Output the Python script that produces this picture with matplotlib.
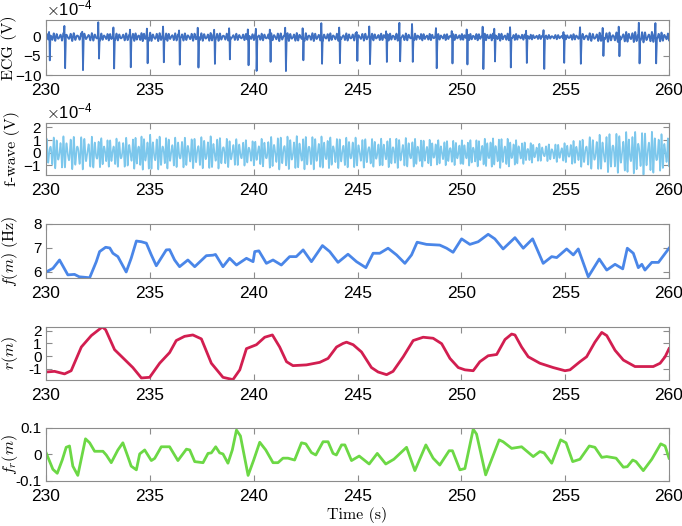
import numpy as np
import matplotlib.pyplot as plt

# ---- values ----
# beat (QRS) times in s, spike depth and small positive peak, in 1e-4 V
beat_t = [230.17, 230.91, 231.77, 232.54, 233.27, 234.07, 234.88, 235.66, 236.43,
          237.33, 238.12, 238.84, 239.74, 240.13, 240.80, 241.54, 242.38, 243.28,
          244.14, 244.98, 245.59, 246.40, 247.04, 247.65, 248.80, 249.56, 250.28,
          251.05, 251.61, 252.37, 253.14, 253.98, 254.94, 255.74, 256.83, 257.60,
          258.57, 259.37]
beat_depth = [6.3, 7.2, 7.6, 6.4, 8.3, 7.6, 7.9, 7.0, 6.8, 8.3, 7.2, 6.8, 8.1, 8.3,
              7.2, 8.6, 7.2, 7.6, 8.0, 6.0, 6.8, 7.2, 6.4, 6.8, 8.0, 7.2, 8.0, 7.6,
              6.4, 8.0, 7.2, 8.6, 7.6, 6.8, 5.0, 6.4, 6.8, 6.4]
beat_peak = [1.5, 3.4, 2.0, 3.5, 2.2, 1.8, 2.0, 2.5, 1.8, 2.2, 1.8, 2.0, 2.4, 2.0,
             3.0, 2.5, 2.0, 2.8, 2.2, 2.0, 2.5, 2.0, 3.2, 3.0, 2.0, 2.2, 2.4, 2.5,
             3.0, 2.0, 2.2, 2.0, 1.8, 2.0, 1.8, 2.6, 3.4, 3.4]

# f-wave amplitude (1e-4 V), one value per second from 230 to 260
fw_env_t = list(range(230, 261))
fw_env = [1.1, 1.2, 1.2, 1.0, 1.1, 1.3, 1.1, 1.1, 1.2, 1.0, 0.9, 1.2, 1.2, 1.2,
          1.1, 1.1, 1.0, 1.1, 1.0, 0.9, 0.9, 1.0, 1.1, 0.8, 0.6, 0.7, 1.1, 1.4,
          1.5, 1.6, 1.2]

# dominant f-wave frequency f(m), Hz
fm_t = [230.0, 230.33, 230.65, 231.05, 231.37, 231.6, 232.1, 232.42, 232.58, 232.87,
        233.07, 233.22, 233.46, 233.86, 234.1, 234.35, 234.59, 234.83, 235.07, 235.31,
        235.79, 235.95, 236.19, 236.43, 236.83, 237.16, 237.72, 238.04, 238.16, 238.52,
        238.84, 239.17, 239.65, 239.97, 240.05, 240.25, 240.61, 240.93, 241.33, 241.73,
        242.05, 242.38, 242.78, 243.31, 243.66, 244.06, 244.54, 244.95, 245.4, 245.75,
        246.07, 246.47, 246.88, 247.28, 247.6, 247.87, 248.32, 248.96, 249.29, 249.6,
        250.01, 250.41, 250.81, 251.29, 251.61, 252.01, 252.58, 252.98, 253.43, 253.94,
        254.35, 254.59, 255.07, 255.39, 255.63, 256.11, 256.64, 257.0, 257.4, 257.77,
        257.99, 258.28, 258.52, 258.69, 258.84, 259.17, 259.49, 260.0]
fm = [6.0, 6.15, 6.5, 5.88, 5.9, 5.8, 5.76, 6.43, 6.85, 7.03,
      7.0, 6.78, 6.64, 6.0, 6.57, 7.29, 7.26, 7.2, 6.71, 6.26,
      6.92, 6.93, 6.5, 6.22, 6.5, 6.22, 6.68, 6.7, 6.73, 6.22,
      6.57, 6.29, 6.57, 6.43, 6.85, 6.88, 6.36, 6.5, 6.29, 6.64,
      6.64, 6.92, 6.43, 7.1, 6.85, 6.4, 6.74, 6.43, 6.18, 6.78,
      6.78, 6.99, 6.71, 6.36, 6.71, 7.24, 7.15, 7.12, 6.99, 6.82,
      7.38, 7.15, 7.26, 7.57, 7.38, 6.96, 7.43, 6.99, 7.38, 6.36,
      6.64, 6.6, 6.96, 6.71, 6.96, 5.8, 6.54, 6.08, 6.32, 6.13,
      6.99, 6.78, 6.18, 6.32, 6.08, 6.4, 6.4, 6.99]

# respiration r(m)
rm_t = [230.0, 230.41, 230.89, 231.21, 231.7, 232.18, 232.71, 232.87, 233.3, 233.7,
        234.18, 234.59, 234.99, 235.47, 235.95, 236.27, 236.67, 237.07, 237.48, 237.96,
        238.52, 239.0, 239.33, 239.65, 240.13, 240.53, 240.9, 241.25, 241.58, 241.89,
        242.54, 243.18, 243.58, 243.99, 244.3, 244.47, 244.79, 245.19, 245.67, 245.99,
        246.4, 246.71, 247.2, 247.68, 248.16, 248.64, 249.05, 249.45, 249.85, 250.17,
        250.57, 250.89, 251.29, 251.7, 252.1, 252.42, 252.58, 252.9, 253.22, 253.78,
        254.42, 254.99, 255.23, 255.71, 256.03, 256.43, 256.76, 257.0, 257.4, 257.8,
        258.36, 259.24, 259.57, 259.81, 260.0]
rm = [-1.25, -1.2, -1.4, -1.15, 0.72, 1.62, 2.3, 2.08, 0.51, -0.13,
      -0.9, -1.72, -1.67, -0.56, 0.28, 1.23, 1.56, 1.67, 1.36, -0.56,
      -1.67, -1.85, -1.08, 0.59, 0.9, 1.49, 1.67, 0.72, -0.44, -0.75,
      -0.69, -0.49, -0.18, 0.72, 1.0, 1.1, 0.9, 0.33, -0.9, -1.25,
      -1.46, -1.2, -0.05, 1.23, 1.49, 1.41, 0.98, -0.18, -0.9, -1.08,
      -1.15, -0.44, 0.03, 0.13, 1.31, 1.74, 1.67, 0.72, -0.05, -0.56,
      -0.9, -1.15, -1.08, -0.44, -0.05, 1.1, 1.87, 1.62, 0.46, -0.31,
      -0.82, -0.82, -0.56, -0.05, 0.59]

# respiratory frequency modulation f_r(m)
fr_t = [230.0, 230.33, 230.54, 230.78, 230.97, 231.13, 231.29, 231.53, 231.9, 232.1,
        232.34, 232.74, 232.9, 233.14, 233.46, 233.7, 233.94, 234.1, 234.35, 234.51,
        234.75, 235.07, 235.23, 235.55, 235.95, 236.35, 236.76, 236.92, 237.16, 237.56,
        237.8, 237.96, 238.17, 238.36, 238.52, 238.76, 238.97, 239.17, 239.36, 239.73,
        240.0, 240.29, 240.58, 240.93, 241.17, 241.41, 241.65, 241.97, 242.3, 242.51,
        242.78, 242.99, 243.34, 243.58, 243.82, 243.98, 244.23, 244.39, 244.71, 245.08,
        245.56, 245.95, 246.36, 246.75, 247.36, 247.76, 248.29, 248.64, 248.96, 249.41,
        249.57, 249.93, 250.17, 250.57, 250.73, 251.17, 251.82, 252.01, 252.42, 252.9,
        253.46, 253.78, 253.98, 254.35, 254.78, 255.04, 255.36, 255.71, 256.16, 256.43,
        256.76, 257.0, 257.45, 257.8, 257.99, 258.25, 258.41, 258.76, 259.17, 259.6,
        259.81, 260.0]
fr = [0.007, -0.056, -0.071, -0.021, 0.027, 0.032, -0.044, -0.079, 0.059, 0.044,
      0.012, 0.012, -0.002, -0.031, 0.017, 0.044, -0.008, -0.044, -0.058, 0.002,
      0.017, -0.023, -0.015, 0.029, 0.029, -0.023, 0.02, 0.017, -0.027, -0.031,
      0.004, 0.006, 0.029, 0.006, 0.002, -0.033, 0.017, 0.092, 0.07, -0.079,
      -0.021, 0.046, 0.017, -0.031, -0.031, -0.014, -0.014, -0.021, 0.044, 0.04,
      0.007, -0.002, 0.048, 0.048, 0.004, -0.002, 0.036, 0.036, -0.023, -0.006,
      -0.036, 0.004, -0.036, -0.018, 0.027, -0.061, 0.036, -0.014, -0.04, 0.014,
      0.014, -0.058, -0.053, 0.095, 0.077, -0.077, 0.055, 0.048, 0.023, 0.029,
      -0.008, 0.011, 0.006, -0.033, 0.055, 0.044, -0.027, -0.018, 0.032, 0.027,
      -0.011, -0.008, -0.014, -0.048, -0.046, -0.021, -0.027, -0.061, -0.018, 0.04,
      0.032, -0.014]

# ---- dense traces built from the values above ----
fs = 250
t = np.arange(230, 260, 1 / fs)
phase = 2 * np.pi * np.cumsum(np.interp(t, fm_t, fm)) / fs
env = np.interp(t, fw_env_t, fw_env)
fwave = env * (0.75 * np.sin(phase) + 0.35 * np.sin(1.37 * phase + 0.4))

ecg = 0.8 * fwave - 0.2
for tb, d, h in zip(beat_t, beat_depth, beat_peak):
    ecg += np.interp(t, [tb - 0.05, tb - 0.025, tb - 0.008, tb + 0.01, tb + 0.04],
                     [0, h, 0, -d, 0], left=0, right=0)

# ---- figure ----
plt.rcParams['font.family'] = ['Liberation Sans', 'DejaVu Sans']
plt.rcParams['mathtext.fontset'] = 'cm'
plt.rcParams['axes.unicode_minus'] = False

fig = plt.figure(figsize=(6.82, 5.26), dpi=100)
lefts, width = 0.0675, 0.9135
boxes = [(0.8574, 0.1046), (0.6673, 0.0989), (0.4715, 0.1027),
         (0.2776, 0.1008), (0.0856, 0.1008)]
axes = [fig.add_axes([lefts, b, width, h]) for b, h in boxes]

lab = dict(fontfamily='cmr10', fontsize=11.5)

ax = axes[0]
ax.plot(t, ecg * 1e-4, color='#3F70C1', lw=1.3)
ax.set_ylim(-10e-4, 4.2e-4)
ax.set_yticks([-10e-4, -5e-4, 0])
ax.ticklabel_format(axis='y', style='sci', scilimits=(-4, -4), useMathText=True)
ax.set_ylabel('ECG (V)', **lab)

ax = axes[1]
ax.plot(t, fwave * 1e-4, color='#7CC7EC', lw=1.2)
ax.set_ylim(-1.75e-4, 2.35e-4)
ax.set_yticks([-1e-4, 0, 1e-4, 2e-4])
ax.ticklabel_format(axis='y', style='sci', scilimits=(-4, -4), useMathText=True)
ax.set_ylabel('f-wave (V)', **lab)

ax = axes[2]
ax.plot(fm_t, fm, color='#4A86E8', lw=2.0)
ax.set_ylim(5.75, 8)
ax.set_yticks([6, 7, 8])
ax.set_ylabel(r'$f(m)$ (Hz)', **lab)

ax = axes[3]
ax.plot(rm_t, rm, color='#D21E50', lw=2.0)
ax.set_ylim(-1.88, 2.3)
ax.set_yticks([-1, 0, 1, 2])
ax.set_ylabel(r'$r(m)$', **lab)

ax = axes[4]
ax.plot(fr_t, fr, color='#6CD845', lw=2.0)
ax.set_ylim(-0.1, 0.1)
ax.set_yticks([-0.1, 0, 0.1])
ax.set_yticklabels(['-0.1', '0', '0.1'])
ax.set_ylabel(r'$f_r(m)$', **lab)
ax.set_xlabel('Time (s)', labelpad=2, **lab)

for ax in axes:
    ax.set_xlim(230, 260)
    ax.set_xticks([230, 235, 240, 245, 250, 255, 260])
    ax.tick_params(direction='in', top=True, right=True, length=4,
                   width=0.8, color='#8c8c8c')
    ax.tick_params(axis='x', pad=6, labelsize=12.5)
    ax.tick_params(axis='y', pad=3, labelsize=11)
    for s in ax.spines.values():
        s.set_color('#8c8c8c')
        s.set_linewidth(0.8)
    ax.yaxis.set_label_coords(-0.041, 0.5)
    ax.yaxis.get_offset_text().set_fontsize(12)
axes[0].yaxis.set_label_coords(-0.046, 0.5)

fig.savefig('out.png', dpi=100)
